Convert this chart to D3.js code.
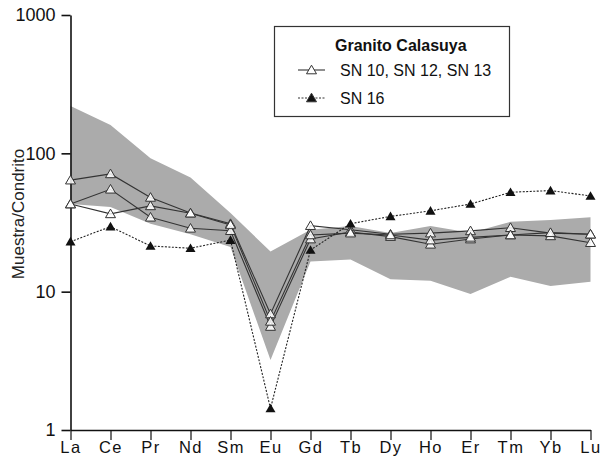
<!DOCTYPE html>
<html>
<head>
<meta charset="utf-8">
<script src="https://cdn.jsdelivr.net/npm/d3@7"></script>
<style>
  html, body { margin: 0; padding: 0; background: #fff; }
  svg { display: block; font-family: "Liberation Sans", Arial, sans-serif; }
</style>
</head>
<body>
<svg id="chart" width="601" height="457"></svg>
<script>
// Rare earth elements (chondrite-normalised)
const elements = ["La","Ce","Pr","Nd","Sm","Eu","Gd","Tb","Dy","Ho","Er","Tm","Yb","Lu"];

// Samples SN 10, SN 12, SN 13 (open triangles)
const sn10 = [64, 71, 48, 37, 31, 6.9, 30, 28, 26, 26.5, 27.5, 29, 26.5, 26];
const sn12 = [43, 55, 34.5, 28.7, 27.6, 5.6, 24, 27, 25, 22, 24, 25.7, 25.3, 22.6];
const sn13 = [43, 36.5, 41.7, 36.9, 30.4, 6.1, 25.7, 26.5, 25.7, 23.6, 24.7, 25.7, 26.7, 26];

// Sample SN 16 (filled triangles)
const sn16 = [23, 29.5, 21.4, 20.6, 23.6, 1.43, 20, 31, 35, 38.4, 43, 52.3, 53.8, 49.2];

// Reference field (grey envelope)
const fieldUpper = [220, 160, 92, 67, 37, 19.5, 28, 29.8, 26.5, 29.8, 26.7, 32, 33, 34.5];
const fieldLower = [43, 41, 31, 26, 21, 3.2, 16.5, 17.1, 12.3, 12, 9.6, 12.8, 11, 11.8];

const yTicks = [1, 10, 100, 1000];
const legendTitle = "Granito Calasuya";
const legendLabels = ["SN 10, SN 12, SN 13", "SN 16"];
const yTitle = "Muestra/Condrito";

const svg = d3.select("#chart");

const x = d3.scalePoint().domain(elements).range([70.5, 590.5]);
const y = d3.scaleLog().domain([1, 1000]).range([430, 15]);

// grey field
const area = d3.area()
  .x((d, i) => x(elements[i]))
  .y0((d, i) => y(fieldLower[i]))
  .y1((d, i) => y(fieldUpper[i]));
svg.append("path")
  .datum(fieldUpper)
  .attr("d", area)
  .attr("fill", "#ababab");

// axes
const yAxis = d3.axisLeft(y)
  .tickValues(yTicks)
  .tickFormat(d3.format("d"))
  .tickSize(9)
  .tickSizeOuter(0)
  .tickPadding(6);
const gy = svg.append("g").attr("transform", "translate(70.5,0)").call(yAxis);
gy.select(".domain").attr("stroke", "#111").attr("stroke-width", 1.6);
gy.selectAll(".tick line").attr("stroke", "#111").attr("stroke-width", 1.6);
gy.selectAll(".tick text")
  .attr("fill", "#111")
  .style("font-size", "18px")
  .style("font-family", "'Liberation Sans', Arial, sans-serif");

const xAxis = d3.axisBottom(x).tickSize(10).tickSizeOuter(0).tickPadding(1);
const gx = svg.append("g").attr("transform", "translate(0,430)").call(xAxis);
gx.select(".domain").attr("stroke", "#111").attr("stroke-width", 1.6);
gx.selectAll(".tick line").attr("stroke", "#111").attr("stroke-width", 1.2);
gx.selectAll(".tick text")
  .attr("fill", "#111")
  .style("font-size", "16.5px")
  .style("letter-spacing", "1.5px")
  .style("font-family", "'Liberation Sans', Arial, sans-serif");

// y-axis title
svg.append("text")
  .attr("transform", "translate(24,214) rotate(-90)")
  .attr("text-anchor", "middle")
  .style("font-size", "17px")
  .attr("fill", "#222")
  .text(yTitle);

// triangle marker
const tri = "M0,-4.8L5,3.8L-5,3.8Z";

const line = d3.line()
  .x((d, i) => x(elements[i]))
  .y(d => y(d));

// open-triangle samples
[sn10, sn12, sn13].forEach(series => {
  svg.append("path")
    .datum(series)
    .attr("d", line)
    .attr("fill", "none")
    .attr("stroke", "#333")
    .attr("stroke-width", 1.1);
});

// SN 16 dotted line
svg.append("path")
  .datum(sn16)
  .attr("d", line)
  .attr("fill", "none")
  .attr("stroke", "#222")
  .attr("stroke-width", 1.1)
  .attr("stroke-dasharray", "2,1.5");

[sn10, sn12, sn13].forEach(series => {
  svg.append("g").selectAll("path")
    .data(series)
    .join("path")
    .attr("transform", (d, i) => `translate(${x(elements[i])},${y(d)})`)
    .attr("d", tri)
    .attr("fill", "#fff")
    .attr("fill-opacity", 0.85)
    .attr("stroke", "#333")
    .attr("stroke-width", 1);
});

svg.append("g").selectAll("path")
  .data(sn16)
  .join("path")
  .attr("transform", (d, i) => `translate(${x(elements[i])},${y(d)})`)
  .attr("d", tri)
  .attr("fill", "#111");

// legend
const lg = svg.append("g");
lg.append("rect")
  .attr("x", 274.5).attr("y", 26.5)
  .attr("width", 235).attr("height", 90)
  .attr("fill", "#fff")
  .attr("stroke", "#333")
  .attr("stroke-width", 1.2);
lg.append("text")
  .attr("x", 335).attr("y", 51)
  .style("font-size", "16px")
  .style("font-weight", "bold")
  .attr("fill", "#111")
  .text(legendTitle);

const legendRows = [
  { y: 70, label: legendLabels[0], dash: null, fill: "#fff" },
  { y: 98, label: legendLabels[1], dash: "2,1.5", fill: "#111" }
];
legendRows.forEach(r => {
  lg.append("line")
    .attr("x1", 298).attr("x2", 325)
    .attr("y1", r.y).attr("y2", r.y)
    .attr("stroke", "#333")
    .attr("stroke-width", 1.1)
    .attr("stroke-dasharray", r.dash);
  lg.append("path")
    .attr("transform", `translate(311.5,${r.y})`)
    .attr("d", tri)
    .attr("fill", r.fill)
    .attr("stroke", "#333")
    .attr("stroke-width", 1);
  lg.append("text")
    .attr("x", 340).attr("y", r.y + 6)
    .style("font-size", "16px")
    .attr("fill", "#111")
    .text(r.label);
});
</script>
</body>
</html>
